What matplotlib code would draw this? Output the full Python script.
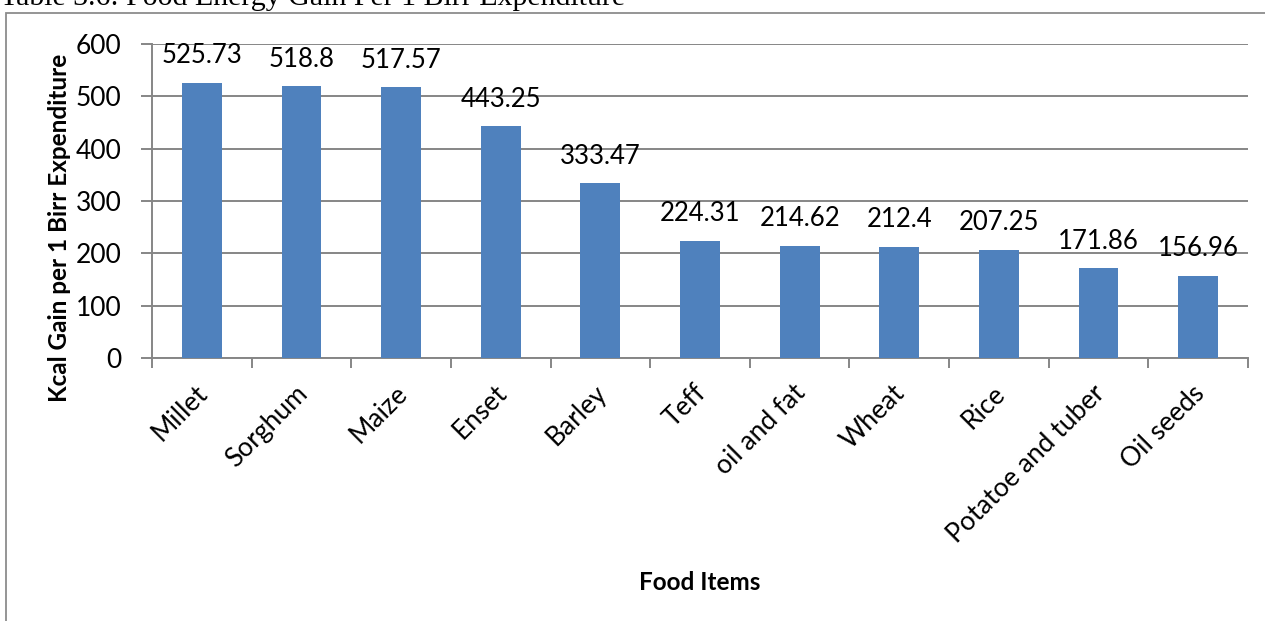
import matplotlib.pyplot as plt
from matplotlib.patches import Rectangle

# food items and kcal gained per 1 birr spent
items = ["Millet", "Sorghum", "Maize", "Enset", "Barley", "Teff",
         "oil and fat", "Wheat", "Rice", "Potatoe and tuber", "Oil seeds"]
kcal = [525.73, 518.8, 517.57, 443.25, 333.47, 224.31,
        214.62, 212.4, 207.25, 171.86, 156.96]
yticks = [0, 100, 200, 300, 400, 500, 600]

W, H = 1265, 621
fig = plt.figure(figsize=(W / 100, H / 100), dpi=100)
fig.patch.set_facecolor("white")

# chart frame (extends past the right and bottom edges)
fig.add_artist(Rectangle((6 / W, -0.1), 1.2, 1.1 - 13 / H, transform=fig.transFigure,
                         fill=False, ec="#8c8c8c", lw=1.3))

# caption above the frame
fig.text(0 / W, 1 - 5 / H, "Table 3.6: Food Energy Gain Per 1 Birr Expenditure",
         family="Liberation Serif", fontsize=21.5, va="baseline", ha="left")

ax = fig.add_axes([152 / W, 1 - 358 / H, (1248 - 152) / W, (358 - 44) / H])
grid_c = "#868686"
x = list(range(len(items)))
ax.bar(x, kcal, width=0.4, color="#4F81BD", zorder=3)
ax.set_xlim(-0.5, len(items) - 0.5)
ax.set_ylim(0, 600)
ax.set_yticks(yticks)
ax.yaxis.grid(True, color=grid_c, lw=1.4, zorder=0)
for s in ["top", "right"]:
    ax.spines[s].set_visible(False)
for s in ["left", "bottom"]:
    ax.spines[s].set_color(grid_c)
    ax.spines[s].set_linewidth(1.4)

font = "Lato"
ax.set_yticklabels([str(v) for v in yticks], family=font, fontsize=19)
ax.tick_params(axis="y", length=8, width=1.4, color=grid_c, pad=14)

# category ticks sit on the boundaries between bars
ax.set_xticks([i - 0.5 for i in range(len(items) + 1)])
ax.set_xticklabels([])
ax.tick_params(axis="x", length=7, width=1.4, color=grid_c)

# rotated category names hang below each bar
for xi, name in zip(x, items):
    ax.annotate(name, (xi, 0), xytext=(1.5, -22.5), textcoords="offset points",
                rotation=45, rotation_mode="anchor", ha="right", va="center",
                family=font, fontsize=19, annotation_clip=False)

# value labels above the bars
for xi, v in zip(x, kcal):
    ax.annotate(f"{v:g}", (xi, v), xytext=(0, 14), textcoords="offset points",
                ha="center", va="baseline", family=font, fontsize=18.5)

fig.text(60 / W, 1 - 228 / H, "Kcal Gain per 1 Birr Expenditure", rotation=90,
         ha="center", va="center", family=font, fontsize=17.5, fontweight="bold")
fig.text(700 / W, 1 - 583 / H, "Food Items", ha="center", va="center",
         family=font, fontsize=17.5, fontweight="bold")

fig.savefig("out.png", dpi=100)
